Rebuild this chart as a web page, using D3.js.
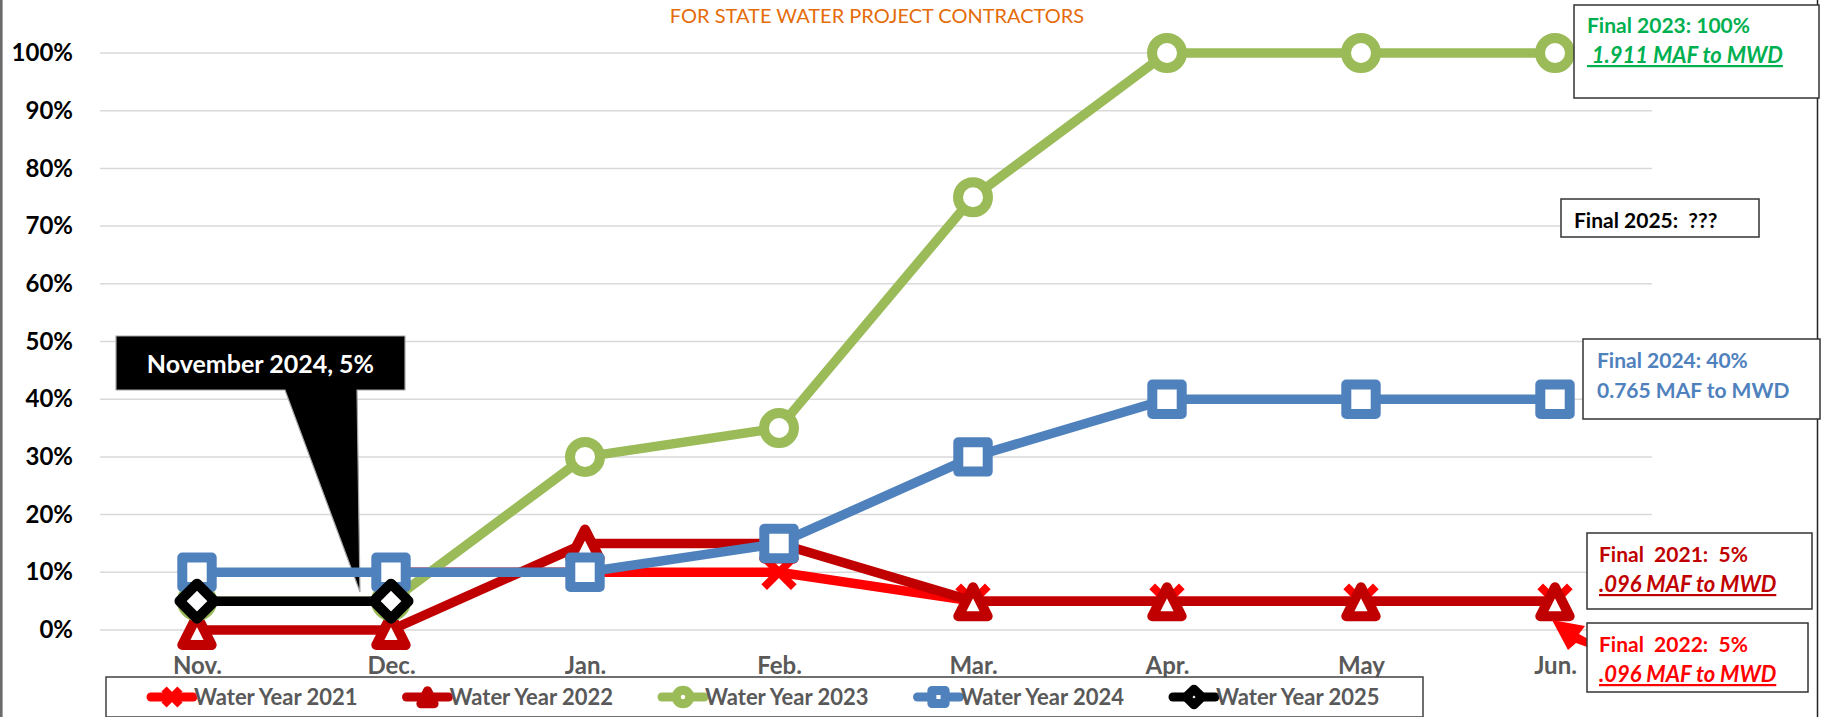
<!DOCTYPE html>
<html>
<head>
<meta charset="utf-8">
<script src="https://cdn.jsdelivr.net/npm/d3@7"></script>
<style>
  body { margin: 0; background: #fff; }
  text { font-family: Lato, "Liberation Sans", sans-serif; }
</style>
</head>
<body>
<div id="chart"></div>
<script>
// months and allocation values (% of Table A)
const months = ["Nov.", "Dec.", "Jan.", "Feb.", "Mar.", "Apr.", "May", "Jun."]
const wy2021 = [null, 10, 10, 10, 5, 5, 5, 5]
const wy2022 = [0, 0, 15, 15, 5, 5, 5, 5]
const wy2023 = [5, 5, 30, 35, 75, 100, 100, 100]
const wy2024 = [10, 10, 10, 15, 30, 40, 40, 40]
const wy2025 = [5, 5, null, null, null, null, null, null]
const yTicks = [0, 10, 20, 30, 40, 50, 60, 70, 80, 90, 100]
const seriesNames = ["Water Year 2021", "Water Year 2022", "Water Year 2023", "Water Year 2024", "Water Year 2025"]

const series = [
    {name: seriesNames[0], values: wy2021, color: "#FF0000", marker: "x"},
    {name: seriesNames[1], values: wy2022, color: "#C00000", marker: "triangle"},
    {name: seriesNames[2], values: wy2023, color: "#9BBB59", marker: "circle"},
    {name: seriesNames[3], values: wy2024, color: "#4F81BD", marker: "square"},
    {name: seriesNames[4], values: wy2025, color: "#000000", marker: "diamond"}
]

const width = 1821, height = 717

const svg = d3.select("#chart").append("svg")
    .attr("width", width)
    .attr("height", height)

const x = d3.scalePoint().domain(months).range([100, 1652]).padding(0.5)
const y = d3.scaleLinear().domain([0, 100]).range([630, 53])

// frame edges
svg.append("rect").attr("x", 0).attr("y", 0).attr("width", 2.6).attr("height", height).attr("fill", "#6b6b6b")
svg.append("line").attr("x1", 1817.5).attr("x2", 1817.5).attr("y1", 0).attr("y2", height)
    .attr("stroke", "#222").attr("stroke-width", 1.5)

// subtitle
svg.append("text")
    .attr("x", 877).attr("y", 23)
    .attr("text-anchor", "middle")
    .attr("fill", "#E46C0A")
    .style("font-size", "20px")
    .text("FOR STATE WATER PROJECT CONTRACTORS")

// grid
svg.append("g").selectAll("line")
    .data(yTicks)
    .enter().append("line")
    .attr("x1", 100).attr("x2", 1652)
    .attr("y1", d => y(d)).attr("y2", d => y(d))
    .attr("stroke", "#D9D9D9").attr("stroke-width", 1.5)

// y axis labels
const yAxis = svg.append("g")
    .attr("transform", "translate(100,0)")
    .call(d3.axisLeft(y).tickValues(yTicks).tickFormat(d => d + "%").tickSize(0).tickPadding(27))
yAxis.select(".domain").remove()
yAxis.selectAll("text")
    .attr("fill", "#000")
    .style("font-size", "24px")
    .style("font-weight", "bold")
    .style("font-family", "Lato, 'Liberation Sans', sans-serif")

// x axis labels
const xAxis = svg.append("g")
    .attr("transform", "translate(0,630)")
    .call(d3.axisBottom(x).tickSize(0).tickPadding(0))
xAxis.select(".domain").remove()
xAxis.selectAll("text")
    .attr("y", 44).attr("dy", 0)
    .attr("fill", "#595959")
    .style("font-size", "24px")
    .style("font-weight", "bold")
    .style("font-family", "Lato, 'Liberation Sans', sans-serif")

// November callout
svg.append("path")
    .attr("d", "M116,336 L405,336 L405,390 L357,390 L360,592 L285,390 L116,390 Z")
    .attr("fill", "#000").attr("stroke", "#A6A6A6").attr("stroke-width", 1.2)
svg.append("text")
    .attr("x", 260.5).attr("y", 372.5)
    .attr("text-anchor", "middle")
    .attr("fill", "#fff")
    .style("font-size", "25px").style("font-weight", "bold")
    .text("November 2024, 5%")

function drawMarker(g, type, color, s, sw) {
    let m
    if (type === "circle") {
        m = g.append("circle").attr("r", 15 * s)
    } else if (type === "square") {
        m = g.append("rect").attr("x", -14.7 * s).attr("y", -14.7 * s)
            .attr("width", 29.4 * s).attr("height", 29.4 * s)
    } else if (type === "triangle") {
        m = g.append("path").attr("d", `M0,${-14 * s} L${14.7 * s},${15 * s} L${-14.7 * s},${15 * s} Z`)
    } else if (type === "diamond") {
        m = g.append("path").attr("d", `M0,${-17.5 * s} L${17.5 * s},0 L0,${17.5 * s} L${-17.5 * s},0 Z`)
    } else {
        m = g.append("path").attr("d", `M${-12 * s},${-12 * s} L${12 * s},${12 * s} M${-12 * s},${12 * s} L${12 * s},${-12 * s}`)
            .attr("stroke-linecap", "square")
        return m.attr("fill", "none").attr("stroke", color).attr("stroke-width", sw * 0.8)
    }
    return m.attr("fill", "#fff").attr("stroke", color).attr("stroke-width", sw)
        .attr("stroke-linejoin", "round")
}

const line = d3.line()
    .defined(d => d != null)
    .x((d, i) => x(months[i]))
    .y(d => y(d))

for (const s of series) {
    const g = svg.append("g")
    g.append("path")
        .attr("d", line(s.values))
        .attr("fill", "none")
        .attr("stroke", s.color)
        .attr("stroke-width", 9.5)
        .attr("stroke-linejoin", "round")
    s.values.forEach((v, i) => {
        if (v == null) return
        const mg = g.append("g").attr("transform", `translate(${x(months[i])},${y(v)})`)
        drawMarker(mg, s.marker, s.color, 1, 10)
    })
}

// legend
const legend = svg.append("g")
legend.append("rect")
    .attr("x", 106).attr("y", 677).attr("width", 1317).attr("height", 40)
    .attr("fill", "#fff").attr("stroke", "#404040").attr("stroke-width", 1.5)
series.forEach((s, i) => {
    const lg = legend.append("g").attr("transform", `translate(${151 + i * 255.5},697)`)
    lg.append("line").attr("x1", 0).attr("x2", 42).attr("y1", 0).attr("y2", 0)
        .attr("stroke", s.color).attr("stroke-width", 9).attr("stroke-linecap", "round")
    const mg = lg.append("g").attr("transform", "translate(21,0)")
    drawMarker(mg, s.marker, s.color, 0.45, 9)
    lg.append("text")
        .attr("x", 43).attr("y", 7.5)
        .attr("fill", "#595959")
        .style("font-size", "22px").style("font-weight", "bold")
        .text(s.name)
})

// final allocation notes
const notes = [
    {box: [1574, 5, 245, 93], color: "#00B050", lines: [
        {t: "Final 2023: 100%", y: 33, ul: false},
        {t: " 1.911 MAF to MWD", y: 63, ul: true}], x: 1587},
    {box: [1561, 199, 198, 38], color: "#000", lines: [
        {t: "Final 2025:  ???", y: 228, ul: false}], x: 1574},
    {box: [1583, 339, 237, 80], color: "#4F81BD", lines: [
        {t: "Final 2024: 40%", y: 368, ul: false},
        {t: "0.765 MAF to MWD", y: 398, ul: false}], x: 1597},
    {box: [1587, 533, 225, 76], color: "#C00000", lines: [
        {t: "Final  2021:  5%", y: 562, ul: false},
        {t: ".096 MAF to MWD", y: 592, ul: true}], x: 1599},
    {box: [1587, 623, 221, 69], color: "#FF0000", lines: [
        {t: "Final  2022:  5%", y: 652, ul: false},
        {t: ".096 MAF to MWD", y: 682, ul: true}], x: 1599}
]

// arrow from the 2022 note to June
svg.append("path")
    .attr("d", "M1552,620 L1585,626 L1579,634 L1590,640 L1590,648 L1576,643 L1568,650 Z")
    .attr("fill", "#FF0000")

for (const n of notes) {
    svg.append("rect")
        .attr("x", n.box[0]).attr("y", n.box[1]).attr("width", n.box[2]).attr("height", n.box[3])
        .attr("fill", "#fff").attr("stroke", "#333").attr("stroke-width", 1.5)
    for (const l of n.lines) {
        svg.append("text")
            .attr("x", n.x).attr("y", l.y)
            .attr("fill", n.color)
            .style("font-size", l.ul ? "22px" : "21px").style("font-weight", "bold")
            .style("font-style", l.ul ? "italic" : "normal")
            .style("text-decoration", l.ul ? "underline" : "none")
            .style("white-space", "pre")
            .text(l.t)
    }
}
</script>
</body>
</html>
